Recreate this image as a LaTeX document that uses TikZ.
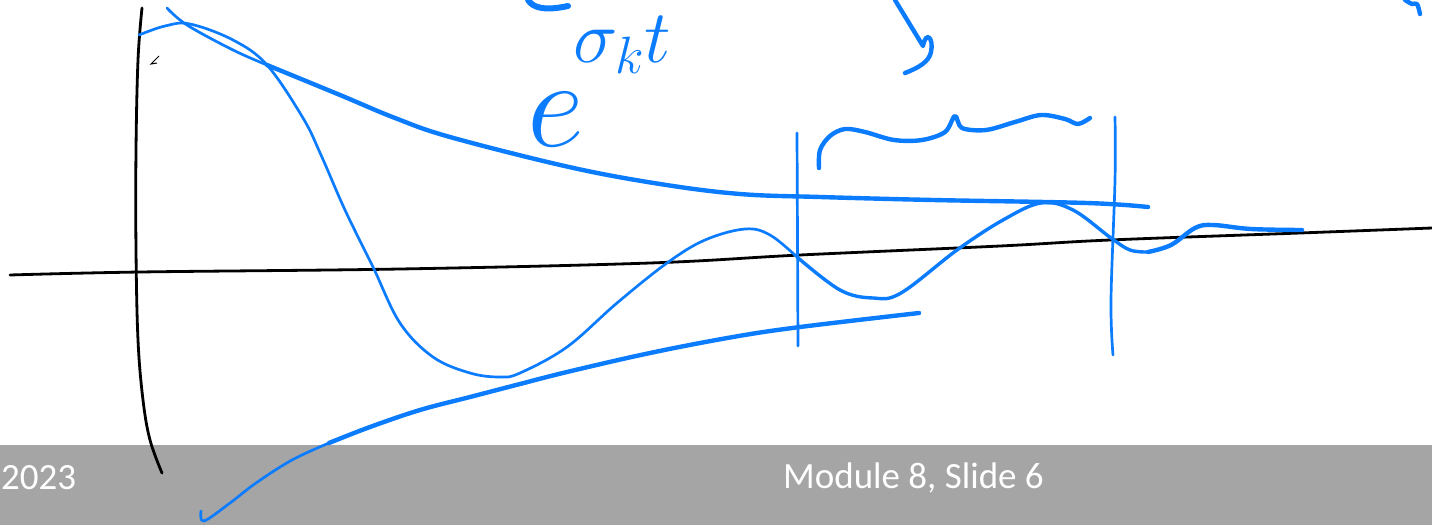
\RequirePackage{fix-cm}
\documentclass[tikz,border=0pt]{standalone}
\usepackage{fontspec}
\newfontfamily\footfont{Carlito}
\definecolor{ink}{RGB}{12,124,255}
\definecolor{barg}{RGB}{165,165,165}
\tikzset{
  inkthin/.style={draw=ink,line width=2.7pt,line cap=round,line join=round},
  inkmid/.style={draw=ink,line width=3.4pt,line cap=round,line join=round},
  inkthick/.style={draw=ink,line width=4.4pt,line cap=round,line join=round},
  axis/.style={draw=black,line width=2.8pt,line cap=round},
  foottext/.style={text=white,font=\footfont\fontsize{37}{40}\selectfont,inner sep=0pt}
}
\begin{document}
\begin{tikzpicture}[x=1pt,y=-1pt]
\useasboundingbox (0,0) rectangle (1432,525);
% footer bar
\fill[barg] (0,445) rectangle (1432,525);
\node[foottext,anchor=west] (year) at (1,478) {2023};
\node[foottext,anchor=west] (slide) at (783,478) {Module 8, Slide 6};
% axes
\draw[axis] plot[smooth,tension=0.6] coordinates {(142,8) (138,60) (136,150) (136,250) (138,340) (143,400) (150,440) (162,473)};
\draw[axis] plot[smooth,tension=0.6] coordinates {(10,275) (140,272) (400,269) (650,263) (800,255) (1000,246) (1110,240) (1300,233) (1432,228)};
\draw[black,line width=1pt] (159,56) -- (151,64) -- (157,63);
% upper envelope
\draw[inkthin] plot[smooth,tension=0.6] coordinates {(167,8) (187,25) (233,50) (267,65)};
\draw[inkthick] plot[smooth,tension=0.6] coordinates {(267,65) (340,95) (395,118) (450,137) (569,167) (660,184) (740,194) (820,197) (933,200) (1087,203) (1148,207)};
% lower envelope
\draw[inkthin] plot[smooth,tension=0.6] coordinates {(201,511) (204,521) (230,503) (256,483) (292,460) (329,443)};
\draw[inkthick] plot[smooth,tension=0.6] coordinates {(329,443) (370,427) (420,410) (470,397) (520,384) (567,372) (650,353) (733,337) (800,327) (919,313)};
% oscillation
\draw[inkthin] plot[smooth,tension=0.6] coordinates {(139,35) (165,26) (190,24) (233,40) (267,65) (303,118) (321,155) (345,210) (373,267) (400,323) (433,357) (470,373) (500,377) (520,373) (567,347) (617,303) (667,263) (705,240) (745,229) (770,235) (797,257)};
\draw[inkmid] plot[smooth,tension=0.6] coordinates {(797,257) (840,290) (873,298) (901,293) (957,250) (1003,220) (1041,203) (1073,210) (1111,238) (1130,250) (1148,252)};
\draw[inkthick] plot[smooth,tension=0.6] coordinates {(1148,252) (1171,245) (1195,228) (1213,225) (1251,229) (1302,230)};
% vertical markers
\draw[inkthin] (797,133) -- (798,346);
\draw[inkthin] plot[smooth,tension=0.6] coordinates {(1115,117) (1115,180) (1111,300) (1113,355)};
% brace
\draw[inkthick] plot[smooth,tension=0.55] coordinates {(819,168) (820,150) (830,136) (845,129) (865,132) (894,140) (922,140) (945,132) (955,116) (962,128) (986,130) (1015,122) (1041,115) (1065,119) (1078,124) (1090,118)};
% cut-off strokes at the top
\draw[ink,line width=6pt,line cap=round] (528,0) .. controls (533,8) and (545,11) .. (568,6);
\draw[inkthick] (895,0) -- (923,46) .. controls (926,30) and (934,38) .. (931,52) .. controls (929,62) and (918,68) .. (905,73);
\draw[inkthick] plot[smooth,tension=0.6] coordinates {(1405,0) (1412,4) (1417,4) (1420,14)};
% label
\node[anchor=base west,text=ink,inner sep=0pt] (lab) at (527,146)
  {\fontsize{125}{125}\selectfont$e$\kern-10pt\raisebox{84pt}{\fontsize{75}{75}\selectfont$\sigma_k t$}};
\end{tikzpicture}
\end{document}
